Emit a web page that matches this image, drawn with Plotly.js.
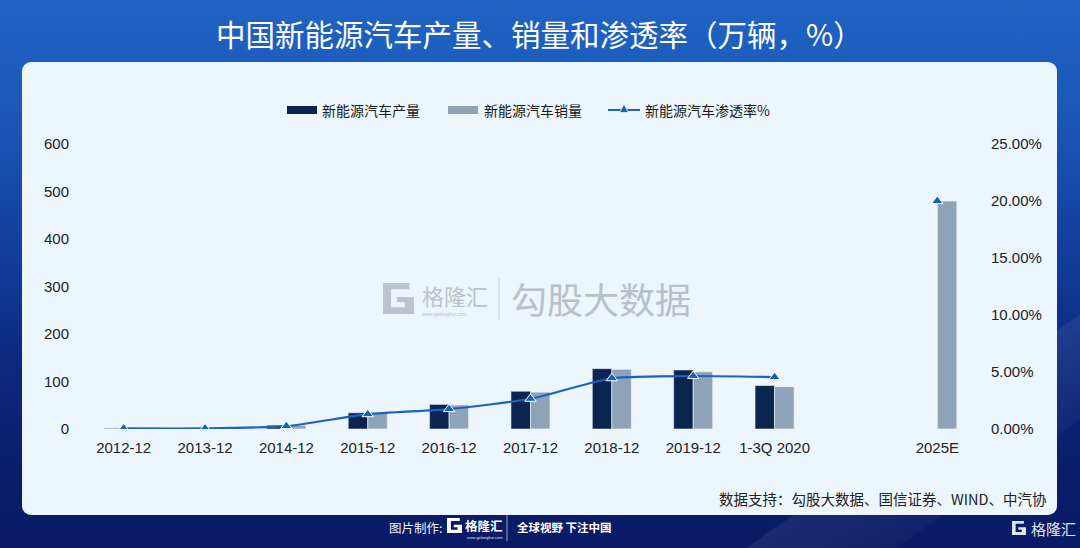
<!DOCTYPE html>
<html>
<head>
<meta charset="utf-8">
<script src="https://cdn.plot.ly/plotly-3.0.1.min.js"></script>
<style>
  html, body { margin: 0; padding: 0; }
  #wrap { position: relative; width: 1080px; height: 548px; overflow: hidden;
    background: linear-gradient(180deg, #1f63c3 0%, #1c5abb 18%, #1444a3 40%, #0d2a80 65%, #0a1d6c 85%, #0a1a66 100%); }
  #streak { position: absolute; left: 0; top: 0; width: 1080px; height: 548px;
    background: linear-gradient(145deg, rgba(255,255,255,0) 82%, rgba(255,255,255,0.07) 82.2%, rgba(255,255,255,0.03) 90%, rgba(255,255,255,0) 90.2%); }
  #panel { position: absolute; left: 22px; top: 62px; width: 1035px; height: 453px;
    background: #edf5fd; border-radius: 9px; }
  #chart { position: absolute; left: 0; top: 0; width: 1080px; height: 548px; }
</style>
</head>
<body>
<div id="wrap">
  <div id="streak"></div>
  <div id="panel"></div>
  <div id="chart"></div>
</div>
<script>
// ---- data ----
const categories = ['2012-12', '2013-12', '2014-12', '2015-12', '2016-12', '2017-12', '2018-12', '2019-12', '1-3Q 2020', '2025E'];
const production = [1.3, 1.8, 7.9, 34.0, 51.7, 79.4, 127.0, 124.2, 91.4, null];
const sales = [1.3, 1.8, 7.5, 33.1, 50.7, 77.7, 125.6, 120.6, 89.2, 480];
const penetration = [0.05, 0.05, 0.25, 1.3, 1.75, 2.65, 4.45, 4.65, 4.55, 20];
const seriesNames = ['新能源汽车产量', '新能源汽车销量', '新能源汽车渗透率%'];
const leftTicks = [0, 100, 200, 300, 400, 500, 600];
const rightTicks = [0, 5, 10, 15, 20, 25];
const rightTickText = ['0.00%', '5.00%', '10.00%', '15.00%', '20.00%', '25.00%'];

// slot positions: forecast year sits after one empty slot
const slot = categories.map((c, i) => (i < categories.length - 1 ? i : i + 1));
const nHist = categories.length - 1;

const colProd = '#0b2550', colSales = '#8ea2b8', colLine = '#1a62c4', colMarker = '#1560bf';

// ---- layout geometry helpers (pixels -> paper) ----
const W = 1080, H = 548, mL = 83, mR = 102, mT = 144, mB = 119;
const pw = W - mL - mR, ph = H - mT - mB;
const X = px => (px - mL) / pw;
const Y = py => (H - mB - py) / ph;

function gLogo(x0, y0, s, color) {
  const pts = [[0,0],[0.85,0],[0.85,0.2],[0.26,0.2],[0.26,0.78],[0.7,0.78],[0.7,0.62],[0.45,0.62],[0.45,0.45],[1,0.45],[1,1],[0,1]];
  const d = pts.map((p, i) => (i ? 'L' : 'M') + X(x0 + p[0] * s).toFixed(5) + ',' + Y(y0 + p[1] * s).toFixed(5)).join(' ') + ' Z';
  return { type: 'path', xref: 'paper', yref: 'paper', path: d, fillcolor: color, line: { width: 0 }, layer: 'below' };
}
function tri(cx, cy, s, color) {
  const d = 'M' + X(cx) + ',' + Y(cy - s * 0.55) + ' L' + X(cx + s * 0.5) + ',' + Y(cy + s * 0.4) + ' L' + X(cx - s * 0.5) + ',' + Y(cy + s * 0.4) + ' Z';
  return { type: 'path', xref: 'paper', yref: 'paper', path: d, fillcolor: color, line: { color: '#ffffff', width: 0.8 } };
}

const cjk = '"Noto Sans CJK SC", "Noto Sans", sans-serif';
const latin = '"Liberation Sans", Arial, sans-serif';

const traces = [
  {
    type: 'bar', name: seriesNames[0], x: slot, y: production, showlegend: false,
    marker: { color: colProd, line: { color: 'rgba(220,230,242,0.7)', width: 0.8 } }, yaxis: 'y'
  },
  {
    type: 'bar', name: seriesNames[1], x: slot, y: sales, showlegend: false,
    marker: { color: colSales, line: { color: 'rgba(235,242,250,0.9)', width: 0.8 } }, yaxis: 'y'
  },
  {
    type: 'scatter', mode: 'lines+markers', name: seriesNames[2], showlegend: false,
    x: slot.slice(0, nHist), y: penetration.slice(0, nHist), yaxis: 'y2',
    line: { color: colLine, width: 2.2, shape: 'spline', smoothing: 0.6 },
    marker: { symbol: 'triangle-up', size: 10, color: colMarker, line: { color: '#ffffff', width: 1 } }
  },
  {
    type: 'scatter', mode: 'markers', name: seriesNames[2], showlegend: false,
    x: slot.slice(nHist), y: penetration.slice(nHist), yaxis: 'y2',
    marker: { symbol: 'triangle-up', size: 10, color: colMarker, line: { color: '#ffffff', width: 1 } }
  }
];

const legFont = { family: cjk, size: 14, color: '#1a1a1a' };
const annotations = [
  { text: '中国新能源汽车产量、销量和渗透率（万辆，%）', xref: 'paper', yref: 'paper', x: X(539), y: Y(33),
    xanchor: 'center', yanchor: 'middle', showarrow: false, font: { family: cjk, size: 29.5, color: '#ffffff' } },
  // legend texts
  { text: seriesNames[0], xref: 'paper', yref: 'paper', x: X(320), y: Y(110), xanchor: 'left', yanchor: 'middle', showarrow: false, font: legFont },
  { text: seriesNames[1], xref: 'paper', yref: 'paper', x: X(482), y: Y(110), xanchor: 'left', yanchor: 'middle', showarrow: false, font: legFont },
  { text: seriesNames[2], xref: 'paper', yref: 'paper', x: X(643), y: Y(110), xanchor: 'left', yanchor: 'middle', showarrow: false, font: legFont },
  { text: '数据支持：勾股大数据、国信证券、WIND、中汽协', xref: 'paper', yref: 'paper', x: X(1049), y: Y(499),
    xanchor: 'right', yanchor: 'middle', showarrow: false, font: { family: cjk, size: 14.5, color: '#222222' } },
  // watermark
  { text: '格隆汇', xref: 'paper', yref: 'paper', x: X(420), y: Y(295), xanchor: 'left', yanchor: 'middle',
    showarrow: false, font: { family: cjk, size: 22, color: '#bcc3cc' } },
  { text: 'www.gelonghui.com', xref: 'paper', yref: 'paper', x: X(420), y: Y(314), xanchor: 'left', yanchor: 'middle',
    showarrow: false, font: { family: latin, size: 5, color: '#bcc3cc' } },
  { text: '勾股大数据', xref: 'paper', yref: 'paper', x: X(509), y: Y(298), xanchor: 'left', yanchor: 'middle',
    showarrow: false, font: { family: cjk, size: 36, color: '#b9c0ca' } },
  // footer
  { text: '图片制作:', xref: 'paper', yref: 'paper', x: X(387), y: Y(527), xanchor: 'left', yanchor: 'middle',
    showarrow: false, font: { family: cjk, size: 12.5, color: '#f0f3fa' } },
  { text: '<b>格隆汇</b>', xref: 'paper', yref: 'paper', x: X(463), y: Y(525), xanchor: 'left', yanchor: 'middle',
    showarrow: false, font: { family: cjk, size: 12.5, color: '#ffffff' } },
  { text: 'www.gelonghui.com', xref: 'paper', yref: 'paper', x: X(465), y: Y(537), xanchor: 'left', yanchor: 'middle',
    showarrow: false, font: { family: latin, size: 4, color: '#dfe6f3' } },
  { text: '<b>全球视野 下注中国</b>', xref: 'paper', yref: 'paper', x: X(515), y: Y(527), xanchor: 'left', yanchor: 'middle',
    showarrow: false, font: { family: cjk, size: 11.5, color: '#ffffff' } },
  { text: '格隆汇', xref: 'paper', yref: 'paper', x: X(1029), y: Y(528), xanchor: 'left', yanchor: 'middle',
    showarrow: false, font: { family: cjk, size: 15, color: '#dde3ee' } }
];

const shapes = [
  // legend symbols
  { type: 'rect', xref: 'paper', yref: 'paper', x0: X(287), x1: X(317), y0: Y(106), y1: Y(114), fillcolor: colProd, line: { width: 0 } },
  { type: 'rect', xref: 'paper', yref: 'paper', x0: X(448), x1: X(478), y0: Y(106), y1: Y(114), fillcolor: colSales, line: { width: 0 } },
  { type: 'line', xref: 'paper', yref: 'paper', x0: X(608), x1: X(640), y0: Y(110), y1: Y(110), line: { color: colLine, width: 2 } },
  tri(624, 109, 9, colMarker),
  // watermark
  gLogo(383, 283, 31, '#bcc3cc'),
  { type: 'line', xref: 'paper', yref: 'paper', x0: X(499), x1: X(499), y0: Y(278), y1: Y(320),
    line: { color: '#c9cfd8', width: 1 } },
  // footer
  gLogo(447, 518, 15, '#ffffff'),
  { type: 'line', xref: 'paper', yref: 'paper', x0: X(507), x1: X(507), y0: Y(515), y1: Y(541),
    line: { color: 'rgba(255,255,255,0.6)', width: 1 } },
  gLogo(1012, 521, 14, '#dde3ee')
];

const layout = {
  width: W, height: H,
  margin: { l: mL, r: mR, t: mT, b: mB, pad: 0 },
  paper_bgcolor: 'rgba(0,0,0,0)', plot_bgcolor: 'rgba(0,0,0,0)',
  barmode: 'group', bargap: 0.52, bargroupgap: 0,
  showlegend: false,
  xaxis: { range: [-0.5, slot[slot.length - 1] + 0.5], tickmode: 'array', tickvals: slot, ticktext: categories,
    showgrid: false, zeroline: false, showline: false, ticks: '', ticklabelstandoff: 8,
    tickfont: { family: latin, size: 15, color: '#222222' } },
  yaxis: { range: [0, 600], tickmode: 'array', tickvals: leftTicks, showgrid: false, zeroline: false, showline: false,
    ticks: '', ticklabelstandoff: 13, tickfont: { family: latin, size: 15, color: '#222222' } },
  yaxis2: { range: [0, 25], overlaying: 'y', side: 'right', tickmode: 'array', tickvals: rightTicks, ticktext: rightTickText,
    showgrid: false, zeroline: false, showline: false, ticks: '', ticklabelstandoff: 12,
    tickfont: { family: latin, size: 15, color: '#222222' } },
  annotations: annotations,
  shapes: shapes
};

Plotly.newPlot('chart', traces, layout, { displayModeBar: false, staticPlot: true });
</script>
</body>
</html>
